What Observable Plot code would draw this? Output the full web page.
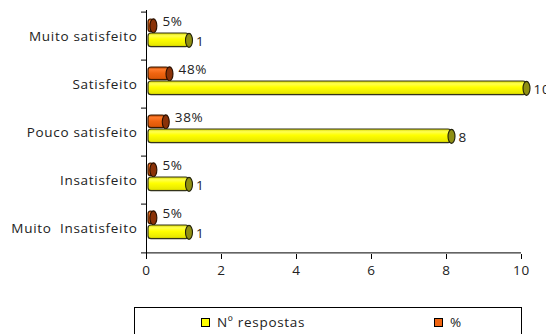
<!DOCTYPE html>
<html>
<head>
<meta charset="utf-8">
<script src="https://cdn.jsdelivr.net/npm/d3@7"></script>
<script src="https://cdn.jsdelivr.net/npm/@observablehq/plot@0.6"></script>
<style>
  body { margin: 0; background: #fff; font-family: "Open Sans", Lato, sans-serif; }
  #wrap { position: relative; width: 546px; height: 334px; overflow: hidden; }
  #legend { position: absolute; left: 134px; top: 307px; width: 386px; height: 28px; border: 1px solid #000; font-size: 13.5px; letter-spacing: 0.7px; color: #222; }
  .item { position: absolute; top: 5px; display: flex; align-items: center; }
  .sw { width: 7px; height: 7px; border: 1px solid #000; margin-right: 7px; }
  svg text { letter-spacing: 0.7px; }
</style>
</head>
<body>
<div id="wrap"><div id="chart"></div><div id="legend"></div></div>
<script>
const categories = ["Muito satisfeito", "Satisfeito", "Pouco satisfeito", "Insatisfeito", "Muito  Insatisfeito"];
const respostas = [1, 10, 8, 1, 1];
const percent = [0.05, 0.48, 0.38, 0.05, 0.05];
const percentLabels = ["5%", "48%", "38%", "5%", "5%"];
const xTicks = [0, 2, 4, 6, 8, 10];
const seriesNames = ["Nº respostas", "%"];

const yellowRows = categories.map((c, i) => ({cat: c, v: respostas[i], label: String(respostas[i])}));
const orangeRows = categories.map((c, i) => ({cat: c, v: percent[i], label: percentLabels[i]}));

// ellipse symbol for cylinder caps
const capShape = {
  draw(ctx, size) {
    const rx = 3.5, ry = 7, k = 0.5523;
    ctx.moveTo(rx, 0);
    ctx.bezierCurveTo(rx, ry * k, rx * k, ry, 0, ry);
    ctx.bezierCurveTo(-rx * k, ry, -rx, ry * k, -rx, 0);
    ctx.bezierCurveTo(-rx, -ry * k, -rx * k, -ry, 0, -ry);
    ctx.bezierCurveTo(rx * k, -ry, rx, -ry * k, rx, 0);
    ctx.closePath();
  }
};

const bw = 244 / categories.length;
const oTop = 7, oH = 13.5, yTop = 21, yH = 14.5;
const oDy = oTop + oH / 2 - bw / 2;
const yDy = yTop + yH / 2 - bw / 2;

const font = "'Open Sans', Lato, sans-serif";
const fs = 13.5;

const plot = Plot.plot({
  width: 546,
  height: 300,
  marginLeft: 146,
  marginRight: 25,
  marginTop: 10,
  marginBottom: 46,
  style: {fontFamily: font, fontSize: fs + "px", color: "#222", background: "#fff"},
  x: {domain: [0, 10], ticks: xTicks, label: null},
  y: {domain: categories, type: "band", padding: 0, label: null},
  marks: [
    // axes
    Plot.axisX({ticks: xTicks, tickSize: 5, tickPadding: 6, stroke: "#000", fontSize: fs, label: null}),
    Plot.axisY({tickSize: 0, tickPadding: 9, fontSize: fs, label: null}),
    Plot.ruleX([0], {stroke: "#000"}),
    Plot.ruleY(categories, {y: d => d, x1: 0, x2: 0, insetLeft: -5, dy: -bw / 2, stroke: "#000"}),
    Plot.ruleY([categories[categories.length - 1]], {y: d => d, x1: 0, x2: 10, insetLeft: -5, dy: bw / 2, stroke: "#000"}),
    // orange bars (%)
    Plot.barX(orangeRows, {x: "v", y: "cat", fill: "url(#gOrange)", stroke: "#3a1a00", strokeWidth: 1.2,
      insetTop: oTop, insetBottom: bw - oTop - oH, insetLeft: 2, insetRight: -5, rx: 3}),
    Plot.dot(orangeRows, {x: "v", y: "cat", symbol: capShape, r: 4, fill: "#8a3208", stroke: "#2a1000", strokeWidth: 1.1, dx: 5, dy: oDy}),
    // yellow bars (Nº respostas)
    Plot.barX(yellowRows, {x: "v", y: "cat", fill: "url(#gYellow)", stroke: "#33331a", strokeWidth: 1.2,
      insetTop: yTop, insetBottom: bw - yTop - yH, insetLeft: 2, insetRight: -5, rx: 3}),
    Plot.dot(yellowRows, {x: "v", y: "cat", symbol: capShape, r: 4, fill: "#8f8f12", stroke: "#22220a", strokeWidth: 1.1, dx: 5, dy: yDy}),
    // labels
    Plot.text(orangeRows, {x: "v", y: "cat", text: "label", textAnchor: "start", dx: 14, dy: oDy - 4, fill: "#222", fontSize: fs}),
    Plot.text(yellowRows, {x: "v", y: "cat", text: "label", textAnchor: "start", dx: 12, dy: yDy + 1.5, fill: "#222", fontSize: fs})
  ]
});

// gradients for cylinder shading
const svgNS = "http://www.w3.org/2000/svg";
const defs = document.createElementNS(svgNS, "defs");
function grad(id, stops) {
  const g = document.createElementNS(svgNS, "linearGradient");
  g.setAttribute("id", id);
  g.setAttribute("x1", "0"); g.setAttribute("y1", "0");
  g.setAttribute("x2", "0"); g.setAttribute("y2", "1");
  for (const [o, c] of stops) {
    const s = document.createElementNS(svgNS, "stop");
    s.setAttribute("offset", o); s.setAttribute("stop-color", c);
    g.appendChild(s);
  }
  defs.appendChild(g);
}
grad("gYellow", [["0", "#d6d600"], ["0.2", "#ffff50"], ["0.45", "#ffff00"], ["0.85", "#eaea00"], ["1", "#c0c000"]]);
grad("gOrange", [["0", "#b84400"], ["0.2", "#ff7a2a"], ["0.5", "#f06410"], ["0.85", "#e05a08"], ["1", "#b04000"]]);
plot.insertBefore(defs, plot.firstChild);

document.getElementById("chart").appendChild(plot);

// legend
const legend = document.getElementById("legend");
const swatchColors = ["#ffff00", "#f06410"];
const positions = [66, 299];
seriesNames.forEach((name, i) => {
  const it = document.createElement("div");
  it.className = "item";
  it.style.left = positions[i] + "px";
  const sw = document.createElement("div");
  sw.className = "sw";
  sw.style.background = swatchColors[i];
  const t = document.createElement("span");
  t.textContent = name;
  it.appendChild(sw); it.appendChild(t);
  legend.appendChild(it);
});
</script>
</body>
</html>
